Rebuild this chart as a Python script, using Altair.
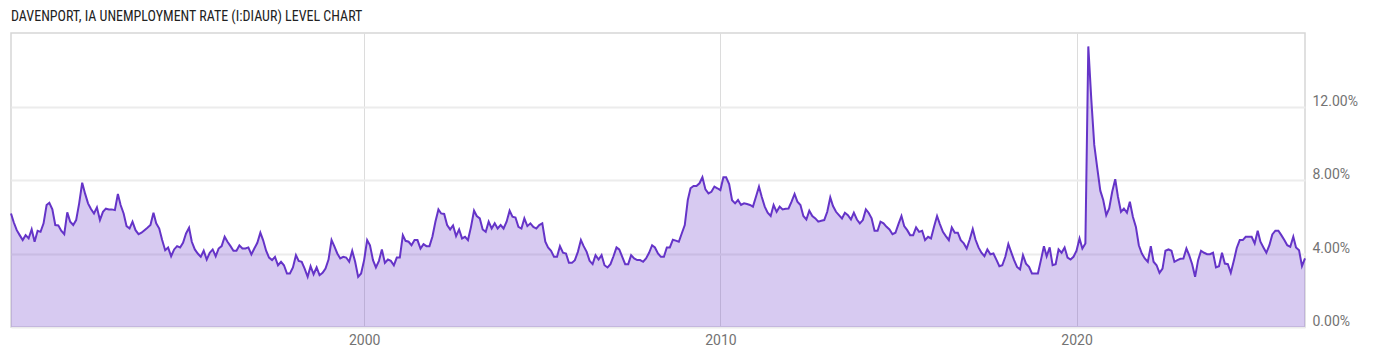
import altair as alt
import pandas as pd

title_text = "DAVENPORT, IA UNEMPLOYMENT RATE (I:DIAUR) LEVEL CHART"
start_month = "1990-01-31"

# monthly unemployment rate (%), Jan 1990 onward
rates = [
    6.18, 5.70, 5.27, 5.00, 4.73, 5.00, 4.82, 5.31, 4.64, 5.24, 5.18, 5.64,
    6.64, 6.76, 6.40, 5.55, 5.53, 5.24, 5.05, 6.24, 5.73, 5.55, 5.82, 6.73,
    7.85, 7.27, 6.73, 6.42, 6.18, 6.51, 5.82, 6.27, 6.44, 6.40, 6.40, 6.36,
    7.24, 6.64, 6.18, 5.49, 5.36, 5.73, 5.27, 5.05, 5.13, 5.27, 5.40, 5.55,
    6.22, 5.64, 5.36, 4.73, 4.18, 4.33, 3.85, 4.22, 4.40, 4.33, 4.58, 5.09,
    5.40, 4.64, 4.22, 4.00, 3.82, 4.15, 3.67, 4.04, 4.22, 3.85, 4.27, 4.40,
    4.91, 4.64, 4.40, 4.15, 4.15, 4.44, 4.27, 4.27, 4.33, 3.95, 4.27, 4.58,
    5.13, 4.73, 4.15, 3.78, 3.64, 3.82, 3.36, 3.55, 3.36, 2.91, 2.91, 3.24,
    3.91, 3.60, 3.55, 3.18, 2.73, 3.31, 2.87, 3.24, 2.82, 2.95, 3.18, 3.67,
    4.73, 4.40, 4.00, 3.73, 3.82, 3.78, 3.55, 4.15, 3.55, 2.73, 2.91, 3.64,
    4.73, 4.45, 3.64, 3.24, 3.60, 4.22, 3.49, 3.67, 3.60, 3.36, 3.78, 3.78,
    5.00, 4.69, 4.64, 4.45, 4.73, 4.73, 4.27, 4.51, 4.40, 4.40, 4.91, 5.73,
    6.40, 6.18, 6.15, 5.55, 5.31, 5.53, 4.95, 5.31, 4.82, 4.91, 4.73, 5.45,
    6.33, 6.04, 5.91, 5.31, 5.18, 5.73, 5.36, 5.64, 5.36, 5.55, 5.36, 5.73,
    6.33, 6.00, 5.96, 5.45, 5.36, 5.91, 5.49, 5.64, 5.45, 5.36, 5.55, 5.64,
    4.64, 4.33, 4.15, 3.82, 3.82, 4.40, 4.04, 4.00, 3.49, 3.49, 3.64, 4.09,
    4.73, 4.40, 4.09, 3.60, 3.42, 3.91, 3.67, 3.91, 3.36, 3.24, 3.42, 3.85,
    4.33, 4.22, 3.82, 3.42, 3.42, 3.91, 3.73, 3.64, 3.64, 3.55, 3.73, 4.04,
    4.45, 4.33, 4.00, 3.82, 3.82, 4.33, 4.33, 4.75, 4.70, 4.64, 5.09, 5.55,
    6.91, 7.55, 7.67, 7.67, 7.82, 8.15, 7.49, 7.27, 7.36, 7.64, 7.55, 7.45,
    8.15, 8.15, 7.78, 6.90, 6.73, 6.91, 6.64, 6.73, 6.69, 6.64, 6.55, 7.09,
    7.64, 7.09, 6.55, 6.22, 6.04, 6.64, 6.27, 6.55, 6.40, 6.44, 6.45, 6.82,
    7.24, 6.82, 6.64, 6.04, 5.85, 6.33, 6.04, 5.91, 5.73, 5.78, 5.82, 6.27,
    7.05, 6.58, 6.27, 6.09, 5.91, 6.22, 6.09, 5.85, 6.22, 5.85, 5.64, 5.82,
    6.40, 6.22, 5.91, 5.24, 5.24, 5.73, 5.64, 5.45, 5.31, 5.05, 5.13, 5.60,
    6.04, 5.49, 5.27, 5.00, 5.00, 5.42, 5.18, 5.24, 4.73, 4.91, 4.82, 5.45,
    6.04, 5.60, 5.18, 4.95, 4.73, 5.42, 5.13, 5.13, 4.73, 4.55, 4.27, 4.76,
    5.33, 4.76, 4.33, 4.04, 3.85, 4.22, 3.96, 4.00, 3.67, 3.31, 3.36, 3.82,
    4.51, 4.09, 3.64, 3.27, 3.13, 3.91, 3.45, 3.27, 2.91, 2.91, 2.91, 3.64,
    4.40, 3.85, 4.33, 3.36, 3.42, 4.22, 4.04, 4.33, 3.78, 3.67, 3.82, 4.15,
    4.82, 4.27, 4.55, 15.27, 12.36, 9.91, 8.64, 7.42, 6.91, 6.09, 6.45, 7.36,
    8.04, 7.09, 6.27, 6.45, 6.22, 6.82, 6.00, 5.45, 4.45, 4.00, 3.73, 3.55,
    4.40, 3.55, 3.36, 2.95, 3.18, 4.15, 4.22, 4.15, 3.55, 3.64, 3.71, 3.73,
    4.27, 3.91, 3.42, 2.73, 3.64, 4.15, 4.04, 3.96, 3.96, 4.04, 3.24, 3.31,
    4.04, 3.45, 3.42, 2.95, 3.60, 4.30, 4.73, 4.73, 4.91, 4.91, 4.91, 4.55,
    5.24, 4.64, 4.33, 4.04, 4.45, 5.04, 5.24, 5.24, 5.00, 4.73, 4.45, 4.36,
    4.91, 4.33, 4.18, 3.31, 3.73,
]

y_ticks = [0, 4, 8, 12]
x_tick_years = [2000, 2010, 2020]

dates = pd.date_range(start_month, periods=len(rates), freq="ME")
df = pd.DataFrame({"date": dates.strftime("%Y-%m-%d"), "rate": rates})

LINE = "#6534c8"
LABEL = "#737373"

x_enc = alt.X(
    "date:T",
    title=None,
    scale=alt.Scale(nice=False, padding=0),
    axis=alt.Axis(
        values=[alt.DateTime(year=yr, month=1, date=1) for yr in x_tick_years],
        format="%Y",
        grid=True,
        gridColor="#dcdcdc",
        gridWidth=1,
        ticks=False,
        domain=False,
        labelColor=LABEL,
        labelFont="Roboto",
        labelFontSize=14,
        labelPadding=6,
    ),
)
y_enc = alt.Y(
    "rate:Q",
    title=None,
    scale=alt.Scale(domain=[0, 16], nice=False),
    axis=alt.Axis(
        orient="right",
        values=y_ticks,
        labelExpr="format(datum.value, '.2f') + '%'",
        grid=True,
        gridColor="#ececec",
        gridWidth=2,
        ticks=False,
        domain=False,
        labelColor=LABEL,
        labelFont="Roboto",
        labelFontSize=14,
        labelPadding=7,
        labelBaseline="alphabetic",
        labelOffset=-1.5,
        labelAlign="left",
    ),
)

base = alt.Chart(df)
area = base.mark_area(color=LINE, opacity=0.26).encode(x=x_enc, y=y_enc)
line = base.mark_line(color=LINE, strokeWidth=2).encode(x="date:T", y="rate:Q")

chart = (
    alt.layer(area, line)
    .properties(
        width=1294,
        height=294,
        autosize=alt.AutoSizeParams(type="none"),
        padding={"left": 11, "top": 33, "right": 95, "bottom": 30},
        title=alt.TitleParams(
            text=title_text,
            anchor="start",
            frame="group",
            font="Roboto Condensed, Liberation Sans Narrow, DejaVu Sans Condensed, Roboto",
            fontSize=14,
            fontWeight="normal",
            color="#222222",
            baseline="alphabetic",
            offset=11,
            dy=13,
        ),
    )
    .configure_view(stroke="#d6d6d6", strokeWidth=1.5)
)

chart.save("out.html", embed_options={"renderer": "svg", "actions": False})
